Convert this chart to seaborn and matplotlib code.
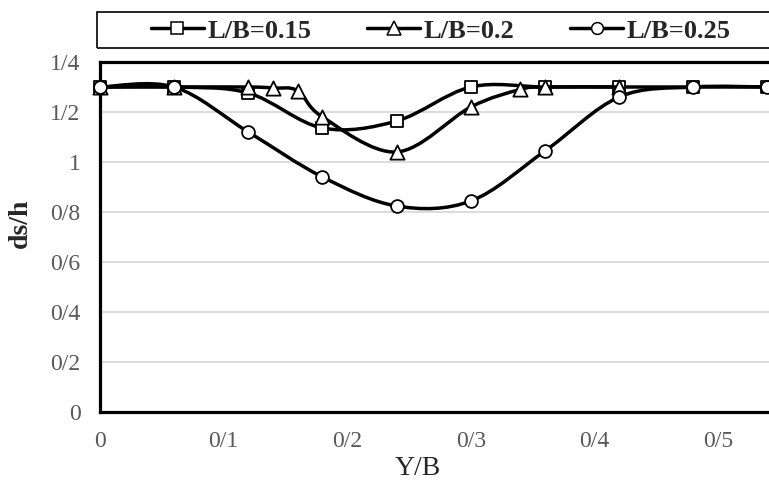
import numpy as np
import pandas as pd
import seaborn as sns
import matplotlib.pyplot as plt
from matplotlib.path import Path
from matplotlib.patches import PathPatch, Rectangle
from matplotlib.lines import Line2D

# values
x_015 = [0, 0.06, 0.12, 0.18, 0.24, 0.30, 0.36, 0.42, 0.48, 0.54]
ds_015 = [1.30, 1.30, 1.276, 1.136, 1.164, 1.30, 1.30, 1.30, 1.30, 1.30]

x_02 = [0, 0.06, 0.12, 0.14, 0.16, 0.18, 0.24, 0.30, 0.34, 0.36, 0.42]
ds_02 = [1.30, 1.30, 1.30, 1.296, 1.285, 1.18, 1.04, 1.22, 1.29, 1.30, 1.30]

x_025 = [0, 0.06, 0.12, 0.18, 0.24, 0.30, 0.36, 0.42, 0.48, 0.54]
ds_025 = [1.30, 1.30, 1.12, 0.94, 0.824, 0.844, 1.044, 1.26, 1.30, 1.30]

series_names = ['L/B=0.15', 'L/B=0.2', 'L/B=0.25']
series_markers = ['s', '^', 'o']

x_ticks = [0, 0.1, 0.2, 0.3, 0.4, 0.5]
x_tick_labels = ['0', '0/1', '0/2', '0/3', '0/4', '0/5']
y_ticks = [0, 0.2, 0.4, 0.6, 0.8, 1.0, 1.2, 1.4]
y_tick_labels = ['0', '0/2', '0/4', '0/6', '0/8', '1', '1/2', '1/4']

df = pd.concat([
    pd.DataFrame({'x': x_015, 'ds': ds_015, 'series': series_names[0]}),
    pd.DataFrame({'x': x_02, 'ds': ds_02, 'series': series_names[1]}),
    pd.DataFrame({'x': x_025, 'ds': ds_025, 'series': series_names[2]}),
], ignore_index=True)

sns.set_style("white")
plt.rcParams['font.family'] = ['Liberation Serif', 'DejaVu Serif']


# smooth line like the spreadsheet "smoothed line" option (Catmull-Rom as Bezier)
def smooth_path(xs, ys):
    pts = np.column_stack([xs, ys]).astype(float)
    n = len(pts)
    verts = [pts[0]]
    codes = [Path.MOVETO]
    for i in range(n - 1):
        p0 = pts[i - 1] if i > 0 else pts[i]
        p1 = pts[i]
        p2 = pts[i + 1]
        p3 = pts[i + 2] if i + 2 < n else pts[i + 1]
        verts += [p1 + (p2 - p0) / 6, p2 - (p3 - p1) / 6, p2]
        codes += [Path.CURVE4] * 3
    return Path(verts, codes)


fig = plt.figure(figsize=(7.69, 4.86), dpi=100)
ax = fig.add_axes([100 / 769, 74 / 486, 669 / 769, 350 / 486])

marker_sizes = {'s': 80, '^': 105, 'o': 85}
for i, (name, m) in enumerate(zip(series_names, series_markers)):
    sub = df[df['series'] == name]
    patch = PathPatch(smooth_path(sub['x'], sub['ds']), fill=False, edgecolor='black',
                      lw=2.5, capstyle='round', joinstyle='round', zorder=3 + 2 * i)
    ax.add_patch(patch)
    sns.scatterplot(data=sub, x='x', y='ds', marker=m, s=marker_sizes[m],
                    color='white', edgecolor='black', linewidth=1.3,
                    clip_on=False, zorder=4 + 2 * i, legend=False, ax=ax)

ax.set_xlim(0, 669 / 1236)
ax.set_ylim(0, 1.4)
ax.set_xticks(x_ticks)
ax.set_xticklabels(x_tick_labels)
ax.set_yticks(y_ticks)
ax.set_yticklabels(y_tick_labels)
ax.tick_params(length=0, pad=14, labelsize=17, labelcolor='#595959')

ax.yaxis.grid(True, color='#d9d9d9', lw=1.3)
ax.xaxis.grid(False)
ax.set_axisbelow(True)

for side in ['left', 'bottom', 'top']:
    ax.spines[side].set_color('black')
    ax.spines[side].set_linewidth(2.3)
    ax.spines[side].set_zorder(2.5)
ax.spines['right'].set_visible(False)

ax.set_xlabel('Y/B', fontsize=20)
ax.set_ylabel('ds/h', fontsize=20, fontweight='bold')
ax.xaxis.set_label_coords(318 / 669, -44 / 350)
ax.yaxis.set_label_coords(-67 / 669, 189 / 350)

handles = [Line2D([], [], color='black', lw=2.5, marker=m, ms=8.5 if m != '^' else 9.5,
                  mfc='white', mec='black', mew=1.1) for m in series_markers]
fig.legend(handles, series_names, loc='center', bbox_to_anchor=(441 / 769, 1 - 31 / 486),
           ncol=3, frameon=False, handlelength=2.0, handletextpad=0.15,
           columnspacing=2.1, prop={'family': 'Liberation Serif', 'weight': 'bold', 'size': 19})
fig.add_artist(Rectangle((97 / 769, 1 - 48 / 486), 1.0, 36 / 486, transform=fig.transFigure,
                         fill=False, edgecolor='black', lw=1.2))

fig.savefig('out.png', dpi=100)
